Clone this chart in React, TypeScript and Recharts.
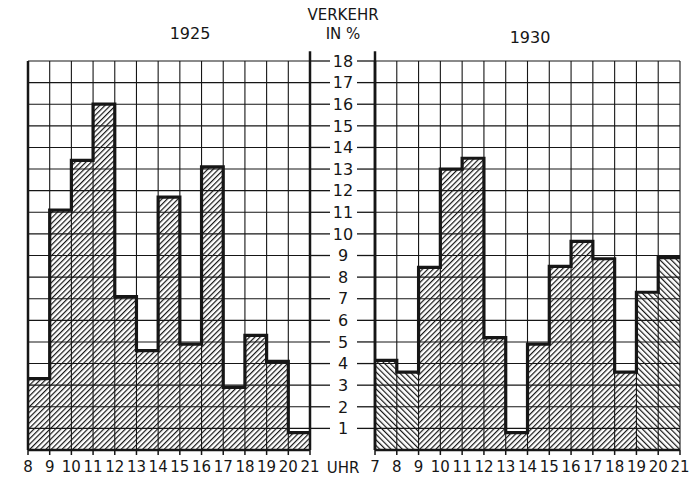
import React from "react";
import { AreaChart, Area, XAxis, YAxis, CartesianGrid, ReferenceLine } from "recharts";

// start hour of each one-hour interval and its share of daily traffic (%)
const hours1925 = [8, 9, 10, 11, 12, 13, 14, 15, 16, 17, 18, 19, 20];
const values1925 = [3.3, 11.1, 13.4, 16.0, 7.1, 4.6, 11.7, 4.9, 13.1, 2.9, 5.3, 4.1, 0.8];
const hatch1925 = ["/", "/", "/", "/", "/", "/", "/", "/", "/", "/", "/", "/", "/"];

const hours1930 = [7, 8, 9, 10, 11, 12, 13, 14, 15, 16, 17, 18, 19, 20];
const values1930 = [4.15, 3.6, 8.45, 13.0, 13.5, 5.2, 0.8, 4.9, 8.5, 9.65, 8.85, 3.6, 7.3, 8.9];
const hatch1930 = ["\\", "\\", "/", "/", "/", "/", "/", "/", "/", "/", "/", "/", "\\", "\\"];

const yTicks = [1, 2, 3, 4, 5, 6, 7, 8, 9, 10, 11, 12, 13, 14, 15, 16, 17, 18];
const xTicks1925 = [8, 9, 10, 11, 12, 13, 14, 15, 16, 17, 18, 19, 20, 21];
const xTicks1930 = [7, 8, 9, 10, 11, 12, 13, 14, 15, 16, 17, 18, 19, 20, 21];

const INK = "#161616";
const FONT = "'DejaVu Sans', sans-serif";

// step table: one row per interval start, plus a closing row at the last hour's end
function buildRows(hours: number[], values: number[], hatch: string[]) {
  const rows = hours.map((h, i) => ({
    h,
    v: values[i],
    fwd: hatch[i] === "/" ? values[i] : 0,
    back: hatch[i] === "\\" ? values[i] : 0,
  }));
  const last = rows[rows.length - 1];
  rows.push({ ...last, h: last.h + 1 });
  return rows;
}

const rows1925 = buildRows(hours1925, values1925, hatch1925);
const rows1930 = buildRows(hours1930, values1930, hatch1930);

function Hatches({ id }: { id: string }) {
  return (
    <defs>
      <pattern id={id + "-fwd"} patternUnits="userSpaceOnUse" width={3.8} height={3.8} patternTransform="rotate(45)">
        <line x1={0.6} y1={0} x2={0.6} y2={3.8} stroke={INK} strokeWidth={1.2} />
      </pattern>
      <pattern id={id + "-back"} patternUnits="userSpaceOnUse" width={4} height={4} patternTransform="rotate(-45)">
        <line x1={0.6} y1={0} x2={0.6} y2={4} stroke={INK} strokeWidth={1.2} />
      </pattern>
    </defs>
  );
}

const EmptyTick = () => <g />;

const CenterTick = (props: any) => {
  const { x, y, payload } = props;
  return (
    <text x={x - 14} y={y} dy="0.36em" textAnchor="middle" fill={INK} fontSize={16} fontFamily={FONT}>
      {payload.value}
    </text>
  );
};

function Panel({
  id,
  rows,
  xTicks,
  side,
  width,
  yWidth,
  margin,
}: {
  id: string;
  rows: any[];
  xTicks: number[];
  side: "left" | "right";
  width: number;
  yWidth: number;
  margin: any;
}) {
  const x0 = xTicks[0];
  const x1 = xTicks[xTicks.length - 1];
  const axisX = side === "left" ? x1 : x0;
  return (
    <AreaChart width={width} height={479} data={rows} margin={margin}>
      <Hatches id={id} />
      <CartesianGrid stroke={INK} strokeWidth={1.1} />
      <XAxis
        type="number"
        dataKey="h"
        domain={[x0, x1]}
        ticks={xTicks}
        interval={0}
        height={29}
        axisLine={{ stroke: INK, strokeWidth: 2.5 }}
        tickLine={{ stroke: INK, strokeWidth: 1.5 }}
        tickSize={5}
        tickMargin={6}
        tick={{ fill: INK, fontSize: 15, fontFamily: FONT }}
      />
      <YAxis
        type="number"
        domain={[0, 18]}
        ticks={yTicks}
        interval={0}
        orientation={side === "left" ? "right" : "left"}
        width={yWidth}
        axisLine={{ stroke: INK, strokeWidth: 2.5 }}
        tickLine={{ stroke: INK, strokeWidth: 1.3 }}
        tickSize={side === "left" ? 20 : 18}
        tickMargin={0}
        tick={side === "left" ? EmptyTick : CenterTick}
      />
      <Area
        type="stepAfter"
        dataKey="fwd"
        stroke="none"
        fill={`url(#${id}-fwd)`}
        fillOpacity={1}
        dot={false}
        activeDot={false}
        isAnimationActive={false}
      />
      <Area
        type="stepAfter"
        dataKey="back"
        stroke="none"
        fill={`url(#${id}-back)`}
        fillOpacity={1}
        dot={false}
        activeDot={false}
        isAnimationActive={false}
      />
      <Area
        type="stepAfter"
        dataKey="v"
        stroke={INK}
        strokeWidth={3.2}
        fill="none"
        dot={false}
        activeDot={false}
        isAnimationActive={false}
      />
      <ReferenceLine x={x0} stroke={INK} strokeWidth={2.5} />
      <ReferenceLine
        segment={[
          { x: axisX, y: 18 },
          { x: axisX, y: 18.45 },
        ]}
        ifOverflow="visible"
        stroke={INK}
        strokeWidth={2.5}
      />
    </AreaChart>
  );
}

const textStyle: React.CSSProperties = {
  position: "absolute",
  fontFamily: FONT,
  color: INK,
  textAlign: "center",
  lineHeight: 1,
  whiteSpace: "nowrap",
};

export default function App() {
  return (
    <div style={{ position: "absolute", left: 0, top: 0, width: 697, height: 479, background: "#fff" }}>
      <div style={{ position: "absolute", left: 0, top: 0 }}>
        <Panel
          id="p1925"
          rows={rows1925}
          xTicks={xTicks1925}
          side="left"
          width={340}
          yWidth={30}
          margin={{ top: 61, right: 0, bottom: 0, left: 28 }}
        />
      </div>
      <div style={{ position: "absolute", left: 320, top: 0 }}>
        <Panel
          id="p1930"
          rows={rows1930}
          xTicks={xTicks1930}
          side="right"
          width={377}
          yWidth={55}
          margin={{ top: 61, right: 17, bottom: 0, left: 0 }}
        />
      </div>
      <div style={{ ...textStyle, left: 303, width: 80, top: 8, fontSize: 15 }}>VERKEHR</div>
      <div style={{ ...textStyle, left: 303, width: 80, top: 27, fontSize: 15 }}>IN %</div>
      <div style={{ ...textStyle, left: 150, width: 80, top: 26, fontSize: 16 }}>1925</div>
      <div style={{ ...textStyle, left: 490, width: 80, top: 30, fontSize: 16 }}>1930</div>
      <div style={{ ...textStyle, left: 313, width: 60, top: 461, fontSize: 15 }}>UHR</div>
    </div>
  );
}
